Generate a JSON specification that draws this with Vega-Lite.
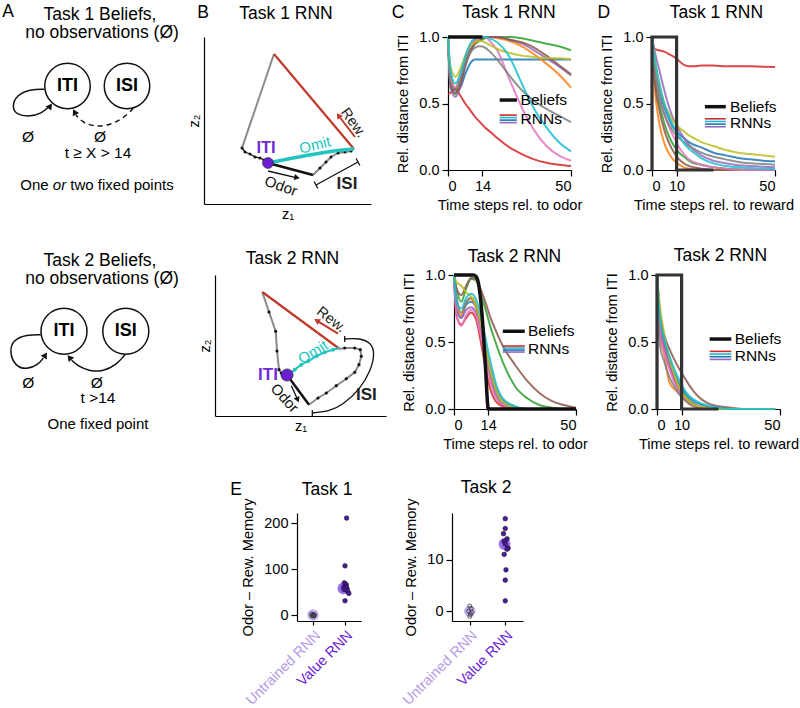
{
"$schema": "https://vega.github.io/schema/vega-lite/v6.json",
"padding": {"left": 0, "top": 3, "right": 0, "bottom": 0},
"config": {
  "font": "Liberation Sans",
  "view": {"stroke": null},
  "axis": {"grid": false, "domainColor": "#000", "tickColor": "#000", "labelColor": "#000", "titleColor": "#000", "labelFontSize": 14.5, "titleFontSize": 14.6, "titleFontWeight": "normal", "tickSize": 6, "labelPadding": 3, "domainWidth": 1.2, "tickWidth": 1.2, "titlePadding": 5},
  "text": {"font": "Liberation Sans", "color": "#000"}
},
"datasets": {
  "c1": [
    {"t":0,"blue":1,"orange":1,"green":1,"red":0.57,"purple":1,"brown":1,"pink":1,"gray":1,"olive":1,"cyan":1},
    {"t":1,"blue":0.72,"orange":0.7,"green":0.65,"red":0.58,"purple":0.62,"brown":0.64,"pink":0.68,"gray":0.66,"olive":0.78,"cyan":0.75},
    {"t":3,"blue":0.6,"orange":0.62,"green":0.57,"red":0.61,"purple":0.55,"brown":0.58,"pink":0.62,"gray":0.6,"olive":0.7,"cyan":0.65},
    {"t":5,"blue":0.62,"orange":0.68,"green":0.65,"red":0.56,"purple":0.62,"brown":0.64,"pink":0.72,"gray":0.68,"olive":0.76,"cyan":0.72},
    {"t":7,"blue":0.72,"orange":0.82,"green":0.8,"red":0.5,"purple":0.78,"brown":0.78,"pink":0.85,"gray":0.8,"olive":0.86,"cyan":0.85},
    {"t":9,"blue":0.8,"orange":0.93,"green":0.9,"red":0.45,"purple":0.9,"brown":0.88,"pink":0.93,"gray":0.88,"olive":0.93,"cyan":0.95},
    {"t":11,"blue":0.83,"orange":0.98,"green":0.95,"red":0.4,"purple":0.97,"brown":0.95,"pink":0.98,"gray":0.92,"olive":0.96,"cyan":0.99},
    {"t":13,"blue":0.83,"orange":1,"green":0.97,"red":0.36,"purple":1,"brown":0.98,"pink":1,"gray":0.93,"olive":0.97,"cyan":1},
    {"t":15,"blue":0.83,"orange":1,"green":0.99,"red":0.32,"purple":1,"brown":1,"pink":1,"gray":0.92,"olive":0.96,"cyan":1},
    {"t":17,"blue":0.83,"orange":1,"green":1,"red":0.29,"purple":1,"brown":1,"pink":0.97,"gray":0.89,"olive":0.94,"cyan":0.99},
    {"t":20,"blue":0.83,"orange":0.99,"green":1,"red":0.24,"purple":1,"brown":1,"pink":0.9,"gray":0.83,"olive":0.91,"cyan":0.96},
    {"t":25,"blue":0.83,"orange":0.97,"green":1,"red":0.17,"purple":0.98,"brown":0.98,"pink":0.68,"gray":0.71,"olive":0.88,"cyan":0.85},
    {"t":30,"blue":0.83,"orange":0.93,"green":0.99,"red":0.12,"purple":0.95,"brown":0.96,"pink":0.47,"gray":0.6,"olive":0.86,"cyan":0.65},
    {"t":35,"blue":0.83,"orange":0.87,"green":0.97,"red":0.08,"purple":0.9,"brown":0.92,"pink":0.3,"gray":0.52,"olive":0.85,"cyan":0.46},
    {"t":40,"blue":0.83,"orange":0.8,"green":0.95,"red":0.055,"purple":0.84,"brown":0.86,"pink":0.18,"gray":0.46,"olive":0.84,"cyan":0.32},
    {"t":45,"blue":0.83,"orange":0.72,"green":0.93,"red":0.04,"purple":0.78,"brown":0.79,"pink":0.11,"gray":0.41,"olive":0.84,"cyan":0.21},
    {"t":50,"blue":0.83,"orange":0.62,"green":0.9,"red":0.03,"purple":0.71,"brown":0.72,"pink":0.07,"gray":0.36,"olive":0.83,"cyan":0.14}
  ],
  "c2": [
    {"t":0,"blue":1,"orange":1,"green":1,"red":1,"purple":1,"brown":1,"pink":1,"gray":1,"olive":1,"cyan":1},
    {"t":1,"blue":0.75,"orange":0.8,"green":0.9,"red":0.7,"purple":0.75,"brown":0.9,"pink":0.7,"gray":0.85,"olive":0.95,"cyan":0.8},
    {"t":3,"blue":0.68,"orange":0.7,"green":0.8,"red":0.63,"purple":0.68,"brown":0.85,"pink":0.62,"gray":0.72,"olive":0.92,"cyan":0.75},
    {"t":5,"blue":0.78,"orange":0.8,"green":0.9,"red":0.68,"purple":0.74,"brown":0.92,"pink":0.7,"gray":0.8,"olive":0.87,"cyan":0.83},
    {"t":7,"blue":0.8,"orange":0.82,"green":0.97,"red":0.72,"purple":0.76,"brown":0.98,"pink":0.74,"gray":0.83,"olive":0.84,"cyan":0.86},
    {"t":9,"blue":0.76,"orange":0.76,"green":0.96,"red":0.67,"purple":0.72,"brown":0.97,"pink":0.7,"gray":0.78,"olive":0.78,"cyan":0.82},
    {"t":11,"blue":0.62,"orange":0.62,"green":0.86,"red":0.5,"purple":0.58,"brown":0.89,"pink":0.55,"gray":0.64,"olive":0.64,"cyan":0.7},
    {"t":13,"blue":0.43,"orange":0.41,"green":0.74,"red":0.3,"purple":0.4,"brown":0.79,"pink":0.36,"gray":0.46,"olive":0.46,"cyan":0.52},
    {"t":15,"blue":0.26,"orange":0.22,"green":0.61,"red":0.14,"purple":0.23,"brown":0.68,"pink":0.2,"gray":0.3,"olive":0.28,"cyan":0.35},
    {"t":17,"blue":0.14,"orange":0.1,"green":0.5,"red":0.06,"purple":0.11,"brown":0.59,"pink":0.09,"gray":0.17,"olive":0.15,"cyan":0.2},
    {"t":20,"blue":0.05,"orange":0.03,"green":0.35,"red":0.02,"purple":0.04,"brown":0.47,"pink":0.03,"gray":0.07,"olive":0.05,"cyan":0.08},
    {"t":25,"blue":0.01,"orange":0,"green":0.17,"red":0,"purple":0.01,"brown":0.33,"pink":0,"gray":0.02,"olive":0.01,"cyan":0.02},
    {"t":30,"blue":0,"orange":0,"green":0.08,"red":0,"purple":0,"brown":0.21,"pink":0,"gray":0,"olive":0,"cyan":0},
    {"t":35,"blue":0,"orange":0,"green":0.03,"red":0,"purple":0,"brown":0.12,"pink":0,"gray":0,"olive":0,"cyan":0},
    {"t":40,"blue":0,"orange":0,"green":0.01,"red":0,"purple":0,"brown":0.06,"pink":0,"gray":0,"olive":0,"cyan":0},
    {"t":45,"blue":0,"orange":0,"green":0,"red":0,"purple":0,"brown":0.03,"pink":0,"gray":0,"olive":0,"cyan":0},
    {"t":50,"blue":0,"orange":0,"green":0,"red":0,"purple":0,"brown":0.01,"pink":0,"gray":0,"olive":0,"cyan":0}
  ],
  "d1": [
    {"t":0,"blue":1,"orange":1,"green":1,"red":1,"purple":1,"brown":1,"pink":1,"gray":1,"olive":1,"cyan":1},
    {"t":1,"blue":0.8,"orange":0.65,"green":0.75,"red":0.91,"purple":0.9,"brown":0.7,"pink":0.8,"gray":0.78,"olive":0.85,"cyan":0.85},
    {"t":3,"blue":0.6,"orange":0.35,"green":0.5,"red":0.9,"purple":0.75,"brown":0.45,"pink":0.55,"gray":0.55,"olive":0.65,"cyan":0.65},
    {"t":5,"blue":0.47,"orange":0.2,"green":0.35,"red":0.89,"purple":0.6,"brown":0.3,"pink":0.42,"gray":0.42,"olive":0.5,"cyan":0.5},
    {"t":7,"blue":0.38,"orange":0.12,"green":0.25,"red":0.87,"purple":0.47,"brown":0.2,"pink":0.32,"gray":0.34,"olive":0.42,"cyan":0.4},
    {"t":9,"blue":0.31,"orange":0.07,"green":0.18,"red":0.85,"purple":0.37,"brown":0.13,"pink":0.24,"gray":0.28,"olive":0.36,"cyan":0.32},
    {"t":11,"blue":0.27,"orange":0.04,"green":0.13,"red":0.82,"purple":0.3,"brown":0.08,"pink":0.17,"gray":0.24,"olive":0.32,"cyan":0.26},
    {"t":13,"blue":0.24,"orange":0.02,"green":0.1,"red":0.79,"purple":0.24,"brown":0.05,"pink":0.12,"gray":0.21,"olive":0.29,"cyan":0.2},
    {"t":15,"blue":0.21,"orange":0.01,"green":0.07,"red":0.78,"purple":0.19,"brown":0.03,"pink":0.08,"gray":0.18,"olive":0.26,"cyan":0.16},
    {"t":17,"blue":0.19,"orange":0.005,"green":0.05,"red":0.78,"purple":0.15,"brown":0.02,"pink":0.06,"gray":0.16,"olive":0.24,"cyan":0.13},
    {"t":20,"blue":0.17,"orange":0,"green":0.04,"red":0.785,"purple":0.11,"brown":0.01,"pink":0.04,"gray":0.13,"olive":0.21,"cyan":0.09},
    {"t":25,"blue":0.13,"orange":0,"green":0.02,"red":0.785,"purple":0.07,"brown":0,"pink":0.02,"gray":0.1,"olive":0.18,"cyan":0.05},
    {"t":30,"blue":0.11,"orange":0,"green":0.01,"red":0.78,"purple":0.05,"brown":0,"pink":0.01,"gray":0.08,"olive":0.15,"cyan":0.03},
    {"t":35,"blue":0.09,"orange":0,"green":0.005,"red":0.78,"purple":0.035,"brown":0,"pink":0,"gray":0.06,"olive":0.13,"cyan":0.02},
    {"t":40,"blue":0.08,"orange":0,"green":0,"red":0.78,"purple":0.03,"brown":0,"pink":0,"gray":0.05,"olive":0.12,"cyan":0.015},
    {"t":45,"blue":0.07,"orange":0,"green":0,"red":0.777,"purple":0.025,"brown":0,"pink":0,"gray":0.045,"olive":0.11,"cyan":0.012},
    {"t":50,"blue":0.065,"orange":0,"green":0,"red":0.775,"purple":0.02,"brown":0,"pink":0,"gray":0.04,"olive":0.1,"cyan":0.01}
  ],
  "d2": [
    {"t":0,"blue":1,"orange":1,"green":1,"red":1,"purple":1,"brown":1,"pink":1,"gray":1,"olive":1,"cyan":1},
    {"t":1,"blue":0.7,"orange":0.6,"green":0.75,"red":0.62,"purple":0.65,"brown":0.75,"pink":0.6,"gray":0.5,"olive":0.8,"cyan":0.72},
    {"t":3,"blue":0.5,"orange":0.4,"green":0.52,"red":0.45,"purple":0.47,"brown":0.55,"pink":0.42,"gray":0.35,"olive":0.55,"cyan":0.52},
    {"t":5,"blue":0.37,"orange":0.2,"green":0.37,"red":0.32,"purple":0.34,"brown":0.45,"pink":0.3,"gray":0.24,"olive":0.38,"cyan":0.4},
    {"t":7,"blue":0.27,"orange":0.15,"green":0.26,"red":0.22,"purple":0.24,"brown":0.37,"pink":0.2,"gray":0.17,"olive":0.26,"cyan":0.3},
    {"t":9,"blue":0.19,"orange":0.12,"green":0.17,"red":0.14,"purple":0.16,"brown":0.3,"pink":0.13,"gray":0.11,"olive":0.16,"cyan":0.22},
    {"t":11,"blue":0.13,"orange":0.08,"green":0.11,"red":0.08,"purple":0.1,"brown":0.24,"pink":0.08,"gray":0.07,"olive":0.1,"cyan":0.15},
    {"t":13,"blue":0.09,"orange":0.04,"green":0.07,"red":0.05,"purple":0.06,"brown":0.18,"pink":0.05,"gray":0.04,"olive":0.06,"cyan":0.1},
    {"t":15,"blue":0.06,"orange":0.02,"green":0.04,"red":0.03,"purple":0.04,"brown":0.13,"pink":0.03,"gray":0.02,"olive":0.03,"cyan":0.07},
    {"t":17,"blue":0.04,"orange":0.01,"green":0.02,"red":0.01,"purple":0.02,"brown":0.09,"pink":0.02,"gray":0.01,"olive":0.02,"cyan":0.05},
    {"t":20,"blue":0.02,"orange":0,"green":0.01,"red":0,"purple":0.01,"brown":0.05,"pink":0.01,"gray":0,"olive":0.01,"cyan":0.03},
    {"t":25,"blue":0.01,"orange":0,"green":0,"red":0,"purple":0,"brown":0.02,"pink":0,"gray":0,"olive":0,"cyan":0.01},
    {"t":30,"blue":0,"orange":0,"green":0,"red":0,"purple":0,"brown":0.01,"pink":0,"gray":0,"olive":0,"cyan":0},
    {"t":35,"blue":0,"orange":0,"green":0,"red":0,"purple":0,"brown":0,"pink":0,"gray":0,"olive":0,"cyan":0},
    {"t":40,"blue":0,"orange":0,"green":0,"red":0,"purple":0,"brown":0,"pink":0,"gray":0,"olive":0,"cyan":0},
    {"t":45,"blue":0,"orange":0,"green":0,"red":0,"purple":0,"brown":0,"pink":0,"gray":0,"olive":0,"cyan":0},
    {"t":48,"blue":0,"orange":0,"green":0,"red":0,"purple":0,"brown":0,"pink":0,"gray":0,"olive":0,"cyan":0}
  ],
  "bel": [
    {"p":"c1","i":0,"t":0,"v":1},{"p":"c1","i":1,"t":14,"v":1},
    {"p":"c2","i":0,"t":0,"v":1},{"p":"c2","i":1,"t":8,"v":1},{"p":"c2","i":2,"t":9,"v":0.99},{"p":"c2","i":3,"t":10,"v":0.94},{"p":"c2","i":4,"t":11,"v":0.8},{"p":"c2","i":5,"t":12,"v":0.58},{"p":"c2","i":6,"t":13,"v":0.28},{"p":"c2","i":7,"t":13.8,"v":0.03},{"p":"c2","i":8,"t":14,"v":0},{"p":"c2","i":9,"t":50,"v":0},
    {"p":"d1","i":0,"t":0,"v":0},{"p":"d1","i":1,"t":0,"v":1},{"p":"d1","i":2,"t":10,"v":1},{"p":"d1","i":3,"t":10,"v":0},{"p":"d1","i":4,"t":25,"v":0},
    {"p":"d2","i":0,"t":0,"v":0},{"p":"d2","i":1,"t":0,"v":1},{"p":"d2","i":2,"t":10,"v":1},{"p":"d2","i":3,"t":10,"v":0},{"p":"d2","i":4,"t":25,"v":0}
  ],
  "leg": [
    {"p":"c1","c":"red","t":21,"t2":28,"v":0.413},{"p":"c1","c":"cyan","t":21,"t2":28,"v":0.394},{"p":"c1","c":"blue","t":21,"t2":28,"v":0.375},{"p":"c1","c":"purple","t":21,"t2":28,"v":0.356},
    {"p":"c2","c":"red","t":20,"t2":29,"v":0.47},{"p":"c2","c":"cyan","t":20,"t2":29,"v":0.455},{"p":"c2","c":"blue","t":20,"t2":29,"v":0.44},{"p":"c2","c":"purple","t":20,"t2":29,"v":0.425},
    {"p":"d1","c":"red","t":21.5,"t2":30,"v":0.385},{"p":"d1","c":"cyan","t":21.5,"t2":30,"v":0.365},{"p":"d1","c":"blue","t":21.5,"t2":30,"v":0.345},{"p":"d1","c":"purple","t":21.5,"t2":30,"v":0.325},
    {"p":"d2","c":"red","t":21.4,"t2":30.2,"v":0.43},{"p":"d2","c":"cyan","t":21.4,"t2":30.2,"v":0.41},{"p":"d2","c":"blue","t":21.4,"t2":30.2,"v":0.39},{"p":"d2","c":"purple","t":21.4,"t2":30.2,"v":0.37}
  ],
  "legb": [
    {"p":"c1","t":21,"t2":28,"v":0.526},{"p":"c2","t":20,"t2":29,"v":0.58},{"p":"d1","t":21.5,"t2":30,"v":0.476},{"p":"d2","t":21.4,"t2":30.2,"v":0.522}
  ],
  "legt": [
    {"p":"c1","t":29.5,"v":0.526,"label":"Beliefs"},{"p":"c1","t":29.5,"v":0.385,"label":"RNNs"},
    {"p":"c2","t":30.3,"v":0.58,"label":"Beliefs"},{"p":"c2","t":30.3,"v":0.445,"label":"RNNs"},
    {"p":"d1","t":31.7,"v":0.476,"label":"Beliefs"},{"p":"d1","t":31.7,"v":0.35,"label":"RNNs"},
    {"p":"d2","t":31.6,"v":0.522,"label":"Beliefs"},{"p":"d2","t":31.6,"v":0.395,"label":"RNNs"}
  ],
  "lett": [
    {"p":"c1","t":-20.3,"v":1.18,"label":"C"},{"p":"c1","t":24.8,"v":1.18,"label":"Task 1 RNN"},
    {"p":"d1","t":-19.6,"v":1.18,"label":"D"},{"p":"d1","t":26.2,"v":1.178,"label":"Task 1 RNN"},
    {"p":"c2","t":24.8,"v":1.138,"label":"Task 2 RNN"},
    {"p":"d2","t":25.8,"v":1.142,"label":"Task 2 RNN"}
  ]
},
"vconcat": [
  {"spacing": 25, "vconcat": [
    {"spacing": 0, "hconcat": [
      {"width": 185, "height": 163,
       "encoding": {"x": {"field": "x", "type": "quantitative", "scale": {"domain": [0, 185], "nice": false, "zero": false}, "axis": null},
                    "y": {"field": "y", "type": "quantitative", "scale": {"domain": [0, 163], "nice": false, "zero": false}, "axis": null}},
       "layer": [
         {"data": {"values": [{"x": 67.5, "y": 114}, {"x": 127, "y": 114}]}, "mark": {"type": "point", "shape": "circle", "filled": false, "size": 2070, "color": "#111", "strokeWidth": 1.5, "opacity": 1}},
         {"data": {"values": [{"i":0,"x":44.3,"y":110.7},{"i":1,"x":30,"y":110.7},{"i":2,"x":16.7,"y":105},{"i":3,"x":11.7,"y":93.3},{"i":4,"x":16.7,"y":85},{"i":5,"x":30,"y":83.3},{"i":6,"x":41.7,"y":86.7},{"i":7,"x":48.3,"y":92.7}]},
          "mark": {"type": "line", "interpolate": "basis", "color": "#111", "strokeWidth": 1.5}, "encoding": {"order": {"field": "i", "type": "quantitative"}}},
         {"data": {"values": [{"i":0,"x":133.3,"y":91.7},{"i":1,"x":123.3,"y":81.7},{"i":2,"x":110,"y":75},{"i":3,"x":96.7,"y":73.3},{"i":4,"x":83.3,"y":76.7},{"i":5,"x":76,"y":85}]},
          "mark": {"type": "line", "interpolate": "basis", "color": "#111", "strokeWidth": 1.5, "strokeDash": [5, 4]}, "encoding": {"order": {"field": "i", "type": "quantitative"}}},
         {"data": {"values": [{"x": 50.2, "y": 94}]}, "mark": {"type": "point", "shape": "triangle-up", "filled": true, "size": 50, "angle": 35, "color": "#111", "opacity": 1}},
         {"data": {"values": [{"x": 74.5, "y": 88}]}, "mark": {"type": "point", "shape": "triangle-up", "filled": true, "size": 50, "angle": 333, "color": "#111", "opacity": 1}},
         {"data": {"values": [{"x": 100, "y": 185, "label": "Task 1 Beliefs,"}, {"x": 102, "y": 167, "label": "no observations (Ø)"}, {"x": 8, "y": 188, "label": "A"}]},
          "mark": {"type": "text", "fontSize": 17.5, "align": "center", "baseline": "middle"}, "encoding": {"text": {"field": "label"}}},
         {"data": {"values": [{"x": 67.5, "y": 114, "label": "ITI"}, {"x": 127, "y": 114, "label": "ISI"}]},
          "mark": {"type": "text", "fontSize": 18, "fontWeight": "bold", "align": "center", "baseline": "middle"}, "encoding": {"text": {"field": "label"}}},
         {"data": {"values": [{"x": 28, "y": 63, "label": "Ø"}, {"x": 100, "y": 63, "label": "Ø"}, {"x": 98, "y": 47, "label": "t ≥ X > 14"}]},
          "mark": {"type": "text", "fontSize": 15.5, "align": "center", "baseline": "middle"}, "encoding": {"text": {"field": "label"}}},
         {"data": {"values": [{"x": 48.6, "y": 15, "label": "One"}]},
          "mark": {"type": "text", "fontSize": 15, "align": "right", "baseline": "middle"}, "encoding": {"text": {"field": "label"}}},
         {"data": {"values": [{"x": 52.8, "y": 15, "label": "or"}]},
          "mark": {"type": "text", "fontSize": 15, "fontStyle": "italic", "align": "left", "baseline": "middle"}, "encoding": {"text": {"field": "label"}}},
         {"data": {"values": [{"x": 70.3, "y": 15, "label": "two fixed points"}]},
          "mark": {"type": "text", "fontSize": 15, "align": "left", "baseline": "middle"}, "encoding": {"text": {"field": "label"}}}
       ]},
      {"width": 1, "height": 1, "data": {"values": []}, "mark": "point"},
      {"width": 167, "height": 167,
       "encoding": {"x": {"field": "x", "type": "quantitative", "scale": {"domain": [0, 167], "nice": false, "zero": false}, "axis": {"title": "z₁", "labels": false, "ticks": false, "titlePadding": 2}},
                    "y": {"field": "y", "type": "quantitative", "scale": {"domain": [0, 167], "nice": false, "zero": false}, "axis": {"title": "z₂", "labels": false, "ticks": false, "titlePadding": 3}}},
       "layer": [
         {"data": {"values": [{"i":0,"x":70,"y":150},{"i":1,"x":38,"y":56}]}, "mark": {"type": "line", "color": "#8a8a8a", "strokeWidth": 2}, "encoding": {"order": {"field": "i", "type": "quantitative"}}},
         {"data": {"values": [{"i":0,"x":70,"y":150},{"i":1,"x":150,"y":55}]}, "mark": {"type": "line", "color": "#c0392b", "strokeWidth": 2.2}, "encoding": {"order": {"field": "i", "type": "quantitative"}}},
         {"data": {"values": [{"i":0,"x":38,"y":56},{"i":1,"x":41,"y":52},{"i":2,"x":46,"y":50},{"i":3,"x":51,"y":47},{"i":4,"x":56,"y":46},{"i":5,"x":60,"y":44},{"i":6,"x":64,"y":41}]}, "mark": {"type": "line", "color": "#111", "strokeWidth": 1.3}, "encoding": {"order": {"field": "i", "type": "quantitative"}}},
         {"data": {"values": [{"i":0,"x":109,"y":29},{"i":1,"x":116,"y":36},{"i":2,"x":122,"y":42},{"i":3,"x":127,"y":47},{"i":4,"x":134,"y":51},{"i":5,"x":141,"y":52},{"i":6,"x":147,"y":53},{"i":7,"x":150,"y":55}]}, "mark": {"type": "line", "color": "#8a8a8a", "strokeWidth": 2}, "encoding": {"order": {"field": "i", "type": "quantitative"}}},
         {"data": {"values": [{"x":38,"y":56},{"x":41,"y":52},{"x":46,"y":50},{"x":51,"y":47},{"x":56,"y":46},{"x":60,"y":44},{"x":116,"y":36},{"x":122,"y":42},{"x":127,"y":47},{"x":134,"y":51},{"x":141,"y":52},{"x":147,"y":53}]}, "mark": {"type": "circle", "size": 9, "color": "#111", "opacity": 1}},
         {"data": {"values": [{"i":0,"x":64,"y":41},{"i":1,"x":109,"y":29}]}, "mark": {"type": "line", "color": "#111", "strokeWidth": 2.5}, "encoding": {"order": {"field": "i", "type": "quantitative"}}},
         {"data": {"values": [{"i":0,"x":64,"y":41},{"i":1,"x":100,"y":48},{"i":2,"x":130,"y":53},{"i":3,"x":150,"y":55}]}, "mark": {"type": "line", "color": "#22c4bf", "strokeWidth": 3.5, "interpolate": "monotone"}, "encoding": {"order": {"field": "i", "type": "quantitative"}}},
         {"data": {"values": [{"x": 64, "y": 41}]}, "mark": {"type": "circle", "size": 120, "color": "#6a1fd0", "stroke": "#222", "strokeWidth": 0.6, "opacity": 1}},
         {"data": {"values": [{"x":64,"y":33,"x2":91,"y2":26.7},{"x":112,"y":19,"x2":154,"y2":42},{"x":113.9,"y":15.5,"x2":110.1,"y2":22.5},{"x":155.9,"y":38.5,"x2":152.1,"y2":45.5}]}, "mark": {"type": "rule", "color": "#111", "strokeWidth": 1.3}, "encoding": {"x2": {"field": "x2"}, "y2": {"field": "y2"}}},
         {"data": {"values": [{"x":151,"y":67,"x2":136,"y2":86.5}]}, "mark": {"type": "rule", "color": "#c0392b", "strokeWidth": 2}, "encoding": {"x2": {"field": "x2"}, "y2": {"field": "y2"}}},
         {"data": {"values": [{"x": 134.5, "y": 88.5}]}, "mark": {"type": "point", "shape": "triangle-up", "filled": true, "size": 45, "angle": 322, "color": "#c0392b", "opacity": 1}},
         {"data": {"values": [{"x": 93, "y": 26.4}]}, "mark": {"type": "point", "shape": "triangle-up", "filled": true, "size": 40, "angle": 103, "color": "#111", "opacity": 1}},
         {"data": {"values": [{"x": 62, "y": 56, "label": "ITI"}]}, "mark": {"type": "text", "fontSize": 16.5, "fontWeight": "bold", "color": "#6c2bd9", "align": "center", "baseline": "middle"}, "encoding": {"text": {"field": "label"}}},
         {"data": {"values": [{"x": 111, "y": 59, "label": "Omit"}]}, "mark": {"type": "text", "fontSize": 15, "color": "#22c4bf", "angle": -14, "align": "center", "baseline": "middle"}, "encoding": {"text": {"field": "label"}}},
         {"data": {"values": [{"x": 149, "y": 81, "label": "Rew."}]}, "mark": {"type": "text", "fontSize": 14.5, "color": "#222", "angle": 54, "align": "center", "baseline": "middle"}, "encoding": {"text": {"field": "label"}}},
         {"data": {"values": [{"x": 77, "y": 18, "label": "Odor"}]}, "mark": {"type": "text", "fontSize": 15, "color": "#111", "angle": 20, "align": "center", "baseline": "middle"}, "encoding": {"text": {"field": "label"}}},
         {"data": {"values": [{"x": 143, "y": 20, "label": "ISI"}]}, "mark": {"type": "text", "fontSize": 17, "fontWeight": "bold", "color": "#222", "align": "center", "baseline": "middle"}, "encoding": {"text": {"field": "label"}}},
         {"data": {"values": [{"x": -1, "y": 191, "label": "B"}, {"x": 82, "y": 190.5, "label": "Task 1 RNN"}]}, "mark": {"type": "text", "fontSize": 17.5, "align": "center", "baseline": "middle"}, "encoding": {"text": {"field": "label"}}}
       ]},
      {"width": 20, "height": 1, "data": {"values": []}, "mark": "point"},
      {"width": 123, "height": 133,
       "encoding": {"x": {"field": "t", "type": "quantitative", "scale": {"domain": [0, 50], "nice": false, "zero": false}, "axis": {"values": [0, 14, 50], "title": "Time steps rel. to odor"}},
                    "y": {"field": "v", "type": "quantitative", "scale": {"domain": [0, 1], "nice": false, "zero": false}, "axis": {"values": [0, 0.5, 1], "format": ".1f", "title": "Rel. distance from ITI", "titlePadding": 8}}},
       "layer": [
         {"data": {"name": "c1"}, "transform": [{"fold": ["blue","orange","green","red","purple","brown","pink","gray","olive","cyan"], "as": ["c", "v"]}],
          "mark": {"type": "line", "interpolate": "monotone", "strokeWidth": 2, "opacity": 0.85},
          "encoding": {"color": {"field": "c", "type": "nominal", "scale": {"domain": ["blue","orange","green","red","purple","brown","pink","gray","olive","cyan"], "range": ["#1f77b4","#ff7f0e","#2ca02c","#d62728","#9467bd","#8c564b","#e377c2","#7f7f7f","#bcbd22","#17becf"]}, "legend": null}}},
         {"data": {"name": "bel"}, "transform": [{"filter": "datum.p == 'c1'"}], "mark": {"type": "line", "color": "#111", "strokeWidth": 3.5}, "encoding": {"order": {"field": "i", "type": "quantitative"}}},
         {"data": {"name": "leg"}, "transform": [{"filter": "datum.p == 'c1'"}], "mark": {"type": "rule", "strokeWidth": 1.6}, "encoding": {"x2": {"field": "t2"}, "color": {"field": "c", "type": "nominal", "legend": null}}},
         {"data": {"name": "legb"}, "transform": [{"filter": "datum.p == 'c1'"}], "mark": {"type": "rule", "strokeWidth": 3.5, "color": "#111"}, "encoding": {"x2": {"field": "t2"}}},
         {"data": {"name": "legt"}, "transform": [{"filter": "datum.p == 'c1'"}], "mark": {"type": "text", "align": "left", "baseline": "middle", "fontSize": 15.5}, "encoding": {"text": {"field": "label"}}},
         {"data": {"name": "lett"}, "transform": [{"filter": "datum.p == 'c1'"}], "mark": {"type": "text", "align": "center", "baseline": "middle", "fontSize": 17.5}, "encoding": {"text": {"field": "label"}}}
       ]},
      {"width": 15, "height": 1, "data": {"values": []}, "mark": "point"},
      {"width": 123, "height": 133,
       "encoding": {"x": {"field": "t", "type": "quantitative", "scale": {"domain": [0, 50], "nice": false, "zero": false}, "axis": {"values": [0, 10, 50], "title": "Time steps rel. to reward"}},
                    "y": {"field": "v", "type": "quantitative", "scale": {"domain": [0, 1], "nice": false, "zero": false}, "axis": {"values": [0, 0.5, 1], "format": ".1f", "title": "Rel. distance from ITI", "titlePadding": 8}}},
       "layer": [
         {"data": {"name": "d1"}, "transform": [{"fold": ["blue","orange","green","red","purple","brown","pink","gray","olive","cyan"], "as": ["c", "v"]}],
          "mark": {"type": "line", "interpolate": "monotone", "strokeWidth": 2, "opacity": 0.85},
          "encoding": {"color": {"field": "c", "type": "nominal", "legend": null}}},
         {"data": {"name": "bel"}, "transform": [{"filter": "datum.p == 'd1'"}], "mark": {"type": "line", "color": "#333", "strokeWidth": 3.2}, "encoding": {"order": {"field": "i", "type": "quantitative"}}},
         {"data": {"name": "leg"}, "transform": [{"filter": "datum.p == 'd1'"}], "mark": {"type": "rule", "strokeWidth": 1.6}, "encoding": {"x2": {"field": "t2"}, "color": {"field": "c", "type": "nominal", "legend": null}}},
         {"data": {"name": "legb"}, "transform": [{"filter": "datum.p == 'd1'"}], "mark": {"type": "rule", "strokeWidth": 3.5, "color": "#111"}, "encoding": {"x2": {"field": "t2"}}},
         {"data": {"name": "legt"}, "transform": [{"filter": "datum.p == 'd1'"}], "mark": {"type": "text", "align": "left", "baseline": "middle", "fontSize": 15.5}, "encoding": {"text": {"field": "label"}}},
         {"data": {"name": "lett"}, "transform": [{"filter": "datum.p == 'd1'"}], "mark": {"type": "text", "align": "center", "baseline": "middle", "fontSize": 17.5}, "encoding": {"text": {"field": "label"}}}
       ]}
    ]},
    {"spacing": 0, "hconcat": [
      {"width": 185, "height": 158,
       "encoding": {"x": {"field": "x", "type": "quantitative", "scale": {"domain": [0, 185], "nice": false, "zero": false}, "axis": null},
                    "y": {"field": "y", "type": "quantitative", "scale": {"domain": [0, 158], "nice": false, "zero": false}, "axis": null}},
       "layer": [
         {"data": {"values": [{"x": 64, "y": 101.7}, {"x": 125.8, "y": 101.7}]}, "mark": {"type": "point", "shape": "circle", "filled": false, "size": 2116, "color": "#111", "strokeWidth": 1.5, "opacity": 1}},
         {"data": {"values": [{"i":0,"x":40.7,"y":98.3},{"i":1,"x":26.7,"y":98.3},{"i":2,"x":13.3,"y":93.3},{"i":3,"x":9.3,"y":81.7},{"i":4,"x":15,"y":66.7},{"i":5,"x":26.7,"y":63.3},{"i":6,"x":38.3,"y":68.3},{"i":7,"x":43.3,"y":75}]},
          "mark": {"type": "line", "interpolate": "basis", "color": "#111", "strokeWidth": 1.5}, "encoding": {"order": {"field": "i", "type": "quantitative"}}},
         {"data": {"values": [{"i":0,"x":125,"y":78.3},{"i":1,"x":116.7,"y":68.3},{"i":2,"x":103.3,"y":61.7},{"i":3,"x":90,"y":61.7},{"i":4,"x":78.3,"y":66.7},{"i":5,"x":71.7,"y":72.7}]},
          "mark": {"type": "line", "interpolate": "basis", "color": "#111", "strokeWidth": 1.5}, "encoding": {"order": {"field": "i", "type": "quantitative"}}},
         {"data": {"values": [{"x": 45.3, "y": 78}]}, "mark": {"type": "point", "shape": "triangle-up", "filled": true, "size": 50, "angle": 31, "color": "#111", "opacity": 1}},
         {"data": {"values": [{"x": 69.5, "y": 75.5}]}, "mark": {"type": "point", "shape": "triangle-up", "filled": true, "size": 50, "angle": 320, "color": "#111", "opacity": 1}},
         {"data": {"values": [{"x": 100, "y": 172, "label": "Task 2 Beliefs,"}, {"x": 102, "y": 154, "label": "no observations (Ø)"}]},
          "mark": {"type": "text", "fontSize": 17.5, "align": "center", "baseline": "middle"}, "encoding": {"text": {"field": "label"}}},
         {"data": {"values": [{"x": 64, "y": 101.7, "label": "ITI"}, {"x": 125.8, "y": 101.7, "label": "ISI"}]},
          "mark": {"type": "text", "fontSize": 18, "fontWeight": "bold", "align": "center", "baseline": "middle"}, "encoding": {"text": {"field": "label"}}},
         {"data": {"values": [{"x": 28.3, "y": 50, "label": "Ø"}, {"x": 96.7, "y": 50, "label": "Ø"}, {"x": 98, "y": 35, "label": "t >14"}]},
          "mark": {"type": "text", "fontSize": 15.5, "align": "center", "baseline": "middle"}, "encoding": {"text": {"field": "label"}}},
         {"data": {"values": [{"x": 98, "y": 9, "label": "One fixed point"}]},
          "mark": {"type": "text", "fontSize": 15, "align": "center", "baseline": "middle"}, "encoding": {"text": {"field": "label"}}}
       ]},
      {"width": 12, "height": 1, "data": {"values": []}, "mark": "point"},
      {"width": 171, "height": 141,
       "encoding": {"x": {"field": "x", "type": "quantitative", "scale": {"domain": [0, 171], "nice": false, "zero": false}, "axis": {"title": "z₁", "labels": false, "ticks": false, "titlePadding": 2}},
                    "y": {"field": "y", "type": "quantitative", "scale": {"domain": [0, 141], "nice": false, "zero": false}, "axis": {"title": "z₂", "labels": false, "ticks": false, "titlePadding": 3}}},
       "layer": [
         {"data": {"values": [{"i":0,"x":47.3,"y":124},{"i":1,"x":54,"y":104},{"i":2,"x":60.7,"y":84.7},{"i":3,"x":62,"y":65},{"i":4,"x":64,"y":46.3},{"i":5,"x":66.3,"y":43},{"i":6,"x":72,"y":40.7}]}, "mark": {"type": "line", "color": "#8a8a8a", "strokeWidth": 2}, "encoding": {"order": {"field": "i", "type": "quantitative"}}},
         {"data": {"values": [{"i":0,"x":47.3,"y":124},{"i":1,"x":124.7,"y":67}]}, "mark": {"type": "line", "color": "#c0392b", "strokeWidth": 2.2}, "encoding": {"order": {"field": "i", "type": "quantitative"}}},
         {"data": {"values": [{"i":0,"x":94,"y":11.3},{"i":1,"x":103,"y":18},{"i":2,"x":111.3,"y":23},{"i":3,"x":121.3,"y":30.3},{"i":4,"x":131.3,"y":37.3},{"i":5,"x":139.7,"y":43.7},{"i":6,"x":144,"y":51.3},{"i":7,"x":146.3,"y":59.7},{"i":8,"x":145.3,"y":66.3},{"i":9,"x":139.7,"y":68},{"i":10,"x":129.7,"y":68},{"i":11,"x":124.7,"y":67}]}, "mark": {"type": "line", "color": "#8a8a8a", "strokeWidth": 2}, "encoding": {"order": {"field": "i", "type": "quantitative"}}},
         {"data": {"values": [{"x":54,"y":104},{"x":60.7,"y":84.7},{"x":62,"y":65},{"x":64,"y":46.3},{"x":66.3,"y":43},{"x":103,"y":18},{"x":111.3,"y":23},{"x":121.3,"y":30.3},{"x":131.3,"y":37.3},{"x":139.7,"y":43.7},{"x":144,"y":51.3},{"x":146.3,"y":59.7},{"x":145.3,"y":66.3},{"x":139.7,"y":68},{"x":129.7,"y":68}]}, "mark": {"type": "circle", "size": 10, "color": "#111", "opacity": 1}},
         {"data": {"values": [{"i":0,"x":72,"y":41},{"i":1,"x":94,"y":11.3}]}, "mark": {"type": "line", "color": "#111", "strokeWidth": 2.5}, "encoding": {"order": {"field": "i", "type": "quantitative"}}},
         {"data": {"values": [{"i":0,"x":72,"y":41},{"i":1,"x":79.7,"y":46.3},{"i":2,"x":86.3,"y":51.3},{"i":3,"x":93,"y":54.7},{"i":4,"x":101.3,"y":59.7},{"i":5,"x":109.7,"y":63.7},{"i":6,"x":118,"y":66.3},{"i":7,"x":124.7,"y":68}]}, "mark": {"type": "line", "color": "#22c4bf", "strokeWidth": 2, "interpolate": "monotone"}, "encoding": {"order": {"field": "i", "type": "quantitative"}}},
         {"data": {"values": [{"x":79.7,"y":46.3},{"x":86.3,"y":51.3},{"x":93,"y":54.7},{"x":101.3,"y":59.7},{"x":109.7,"y":63.7},{"x":118,"y":66.3}]}, "mark": {"type": "circle", "size": 16, "color": "#22c4bf", "opacity": 1}},
         {"data": {"values": [{"i":0,"x":129.7,"y":77},{"i":1,"x":144.7,"y":78},{"i":2,"x":156.3,"y":73},{"i":3,"x":159.7,"y":63},{"i":4,"x":156.3,"y":46.3},{"i":5,"x":144.7,"y":26.3},{"i":6,"x":128,"y":11.3},{"i":7,"x":114.7,"y":4.7},{"i":8,"x":97.3,"y":3}]}, "mark": {"type": "line", "interpolate": "basis", "color": "#111", "strokeWidth": 1.3}, "encoding": {"order": {"field": "i", "type": "quantitative"}}},
         {"data": {"values": [{"x": 72, "y": 41}]}, "mark": {"type": "circle", "size": 150, "color": "#6a1fd0", "stroke": "#222", "strokeWidth": 0.6, "opacity": 1}},
         {"data": {"values": [{"x":129.7,"y":74,"x2":129.7,"y2":80},{"x":97.3,"y":0,"x2":97.3,"y2":6},{"x":76.3,"y":30.3,"x2":81.8,"y2":18.3}]}, "mark": {"type": "rule", "color": "#111", "strokeWidth": 1.3}, "encoding": {"x2": {"field": "x2"}, "y2": {"field": "y2"}}},
         {"data": {"values": [{"x":123,"y":82.3,"x2":103,"y2":94.7}]}, "mark": {"type": "rule", "color": "#c0392b", "strokeWidth": 2}, "encoding": {"x2": {"field": "x2"}, "y2": {"field": "y2"}}},
         {"data": {"values": [{"x": 101.8, "y": 95.4}]}, "mark": {"type": "point", "shape": "triangle-up", "filled": true, "size": 45, "angle": 302, "color": "#c0392b", "opacity": 1}},
         {"data": {"values": [{"x": 82.7, "y": 16.3}]}, "mark": {"type": "point", "shape": "triangle-up", "filled": true, "size": 40, "angle": 155, "color": "#111", "opacity": 1}},
         {"data": {"values": [{"x": 53, "y": 41, "label": "ITI"}]}, "mark": {"type": "text", "fontSize": 17, "fontWeight": "bold", "color": "#6c2bd9", "align": "center", "baseline": "middle"}, "encoding": {"text": {"field": "label"}}},
         {"data": {"values": [{"x": 98, "y": 64, "label": "Omit"}]}, "mark": {"type": "text", "fontSize": 15, "color": "#22c4bf", "angle": -31, "align": "center", "baseline": "middle"}, "encoding": {"text": {"field": "label"}}},
         {"data": {"values": [{"x": 116, "y": 96, "label": "Rew."}]}, "mark": {"type": "text", "fontSize": 14.5, "color": "#222", "angle": 38, "align": "center", "baseline": "middle"}, "encoding": {"text": {"field": "label"}}},
         {"data": {"values": [{"x": 69.7, "y": 18, "label": "Odor"}]}, "mark": {"type": "text", "fontSize": 15, "color": "#111", "angle": 47, "align": "center", "baseline": "middle"}, "encoding": {"text": {"field": "label"}}},
         {"data": {"values": [{"x": 151.3, "y": 21.3, "label": "ISI"}]}, "mark": {"type": "text", "fontSize": 17, "fontWeight": "bold", "color": "#222", "align": "center", "baseline": "middle"}, "encoding": {"text": {"field": "label"}}},
         {"data": {"values": [{"x": 77.5, "y": 157, "label": "Task 2 RNN"}]}, "mark": {"type": "text", "fontSize": 17.5, "align": "center", "baseline": "middle"}, "encoding": {"text": {"field": "label"}}}
       ]},
      {"width": 15, "height": 1, "data": {"values": []}, "mark": "point"},
      {"width": 122, "height": 134,
       "encoding": {"x": {"field": "t", "type": "quantitative", "scale": {"domain": [0, 50], "nice": false, "zero": false}, "axis": {"values": [0, 14, 50], "title": "Time steps rel. to odor"}},
                    "y": {"field": "v", "type": "quantitative", "scale": {"domain": [0, 1], "nice": false, "zero": false}, "axis": {"values": [0, 0.5, 1], "format": ".1f", "title": "Rel. distance from ITI", "titlePadding": 8}}},
       "layer": [
         {"data": {"name": "c2"}, "transform": [{"fold": ["blue","orange","green","red","purple","brown","pink","gray","olive","cyan"], "as": ["c", "v"]}],
          "mark": {"type": "line", "interpolate": "monotone", "strokeWidth": 2, "opacity": 0.85},
          "encoding": {"color": {"field": "c", "type": "nominal", "legend": null}}},
         {"data": {"name": "bel"}, "transform": [{"filter": "datum.p == 'c2'"}], "mark": {"type": "line", "interpolate": "monotone", "color": "#111", "strokeWidth": 3.5}, "encoding": {"order": {"field": "i", "type": "quantitative"}}},
         {"data": {"name": "leg"}, "transform": [{"filter": "datum.p == 'c2'"}], "mark": {"type": "rule", "strokeWidth": 1.6}, "encoding": {"x2": {"field": "t2"}, "color": {"field": "c", "type": "nominal", "legend": null}}},
         {"data": {"name": "legb"}, "transform": [{"filter": "datum.p == 'c2'"}], "mark": {"type": "rule", "strokeWidth": 3.5, "color": "#111"}, "encoding": {"x2": {"field": "t2"}}},
         {"data": {"name": "legt"}, "transform": [{"filter": "datum.p == 'c2'"}], "mark": {"type": "text", "align": "left", "baseline": "middle", "fontSize": 15.5}, "encoding": {"text": {"field": "label"}}},
         {"data": {"name": "lett"}, "transform": [{"filter": "datum.p == 'c2'"}], "mark": {"type": "text", "align": "center", "baseline": "middle", "fontSize": 17.5}, "encoding": {"text": {"field": "label"}}}
       ]},
      {"width": 16, "height": 1, "data": {"values": []}, "mark": "point"},
      {"width": 123, "height": 134,
       "encoding": {"x": {"field": "t", "type": "quantitative", "scale": {"domain": [0, 50], "nice": false, "zero": false}, "axis": {"values": [0, 10, 50], "title": "Time steps rel. to reward"}},
                    "y": {"field": "v", "type": "quantitative", "scale": {"domain": [0, 1], "nice": false, "zero": false}, "axis": {"values": [0, 0.5, 1], "format": ".1f", "title": "Rel. distance from ITI", "titlePadding": 8}}},
       "layer": [
         {"data": {"name": "d2"}, "transform": [{"fold": ["blue","orange","green","red","purple","brown","pink","gray","olive","cyan"], "as": ["c", "v"]}],
          "mark": {"type": "line", "interpolate": "monotone", "strokeWidth": 2, "opacity": 0.85},
          "encoding": {"color": {"field": "c", "type": "nominal", "legend": null}}},
         {"data": {"name": "bel"}, "transform": [{"filter": "datum.p == 'd2'"}], "mark": {"type": "line", "color": "#333", "strokeWidth": 3.2}, "encoding": {"order": {"field": "i", "type": "quantitative"}}},
         {"data": {"name": "leg"}, "transform": [{"filter": "datum.p == 'd2'"}], "mark": {"type": "rule", "strokeWidth": 1.6}, "encoding": {"x2": {"field": "t2"}, "color": {"field": "c", "type": "nominal", "legend": null}}},
         {"data": {"name": "legb"}, "transform": [{"filter": "datum.p == 'd2'"}], "mark": {"type": "rule", "strokeWidth": 3.5, "color": "#111"}, "encoding": {"x2": {"field": "t2"}}},
         {"data": {"name": "legt"}, "transform": [{"filter": "datum.p == 'd2'"}], "mark": {"type": "text", "align": "left", "baseline": "middle", "fontSize": 15.5}, "encoding": {"text": {"field": "label"}}},
         {"data": {"name": "lett"}, "transform": [{"filter": "datum.p == 'd2'"}], "mark": {"type": "text", "align": "center", "baseline": "middle", "fontSize": 17.5}, "encoding": {"text": {"field": "label"}}}
       ]}
    ]}
  ]},
  {"spacing": 0, "hconcat": [
    {"width": 230, "height": 1, "data": {"values": []}, "mark": "point"},
    {"width": 64, "height": 108,
     "encoding": {"x": {"field": "x", "type": "quantitative", "scale": {"domain": [-0.5, 1.5], "nice": false, "zero": false}, "axis": {"values": [0, 1], "labelExpr": "datum.value == 0 ? 'Untrained RNN' : 'Value RNN'", "labelAngle": -45, "labelAlign": "right", "labelBaseline": "top", "labelColor": {"condition": {"test": "datum.value == 0", "value": "#b49be8"}, "value": "#6a22d8"}, "title": null, "tickSize": 4, "labelFontSize": 14.5}},
                  "y": {"field": "v", "type": "quantitative", "scale": {"domain": [-13, 222], "nice": false, "zero": false}, "axis": {"values": [0, 100, 200], "title": "Odor – Rew. Memory", "titlePadding": 8}}},
     "layer": [
       {"data": {"values": [{"x": 0, "v": 0}]}, "mark": {"type": "circle", "size": 130, "color": "#c3adf2", "opacity": 1}},
       {"data": {"values": [{"x": 0.95, "v": 58}]}, "mark": {"type": "circle", "size": 140, "color": "#8d5fe8", "opacity": 0.9}},
       {"data": {"values": [{"x":-0.04,"v":2},{"x":0.03,"v":1},{"x":0,"v":0},{"x":0.05,"v":-0.5},{"x":-0.03,"v":-1.5},{"x":0.02,"v":-2.5}]}, "mark": {"type": "point", "shape": "circle", "filled": false, "size": 16, "color": "#333", "strokeWidth": 0.8, "opacity": 1}},
       {"data": {"values": [{"x":1.05,"v":211},{"x":1.0,"v":107},{"x":0.98,"v":70},{"x":1.04,"v":66},{"x":1.02,"v":62},{"x":0.96,"v":60},{"x":1.06,"v":58},{"x":0.97,"v":56},{"x":1.08,"v":52},{"x":1.12,"v":47},{"x":1.0,"v":31}]}, "mark": {"type": "circle", "size": 22, "color": "#4d1a9e", "stroke": "#111", "strokeWidth": 0.5, "opacity": 1}},
       {"data": {"values": [{"x": -2.4, "v": 272, "label": "E"}, {"x": 0.44, "v": 272, "label": "Task 1"}]}, "mark": {"type": "text", "fontSize": 17.5, "align": "center", "baseline": "middle"}, "encoding": {"text": {"field": "label"}}}
     ]},
    {"width": 38, "height": 1, "data": {"values": []}, "mark": "point"},
    {"width": 71, "height": 108,
     "encoding": {"x": {"field": "x", "type": "quantitative", "scale": {"domain": [-0.5, 1.5], "nice": false, "zero": false}, "axis": {"values": [0, 1], "labelExpr": "datum.value == 0 ? 'Untrained RNN' : 'Value RNN'", "labelAngle": -45, "labelAlign": "right", "labelBaseline": "top", "labelColor": {"condition": {"test": "datum.value == 0", "value": "#b49be8"}, "value": "#6a22d8"}, "title": null, "tickSize": 4, "labelFontSize": 14.5}},
                  "y": {"field": "v", "type": "quantitative", "scale": {"domain": [-1.9, 19], "nice": false, "zero": false}, "axis": {"values": [0, 10], "title": "Odor – Rew. Memory", "titlePadding": 8}}},
     "layer": [
       {"data": {"values": [{"x": 0, "v": 0}]}, "mark": {"type": "circle", "size": 130, "color": "#c3adf2", "opacity": 1}},
       {"data": {"values": [{"x": 0.98, "v": 13}]}, "mark": {"type": "circle", "size": 140, "color": "#8d5fe8", "opacity": 0.9}},
       {"data": {"values": [{"x":0,"v":1},{"x":0.04,"v":0.5},{"x":-0.03,"v":0},{"x":0.05,"v":-0.2},{"x":0.02,"v":-0.6},{"x":0,"v":-1}]}, "mark": {"type": "point", "shape": "circle", "filled": false, "size": 16, "color": "#333", "strokeWidth": 0.8, "opacity": 1}},
       {"data": {"values": [{"x":1.0,"v":17.9},{"x":1.0,"v":16},{"x":0.95,"v":15},{"x":1.05,"v":14},{"x":0.97,"v":13.5},{"x":1.0,"v":13},{"x":1.08,"v":12.2},{"x":1.05,"v":12},{"x":0.97,"v":11},{"x":1.02,"v":8},{"x":1.0,"v":6},{"x":1.0,"v":2}]}, "mark": {"type": "circle", "size": 22, "color": "#4d1a9e", "stroke": "#111", "strokeWidth": 0.5, "opacity": 1}},
       {"data": {"values": [{"x": 0.46, "v": 23.8, "label": "Task 2"}]}, "mark": {"type": "text", "fontSize": 17.5, "align": "center", "baseline": "middle"}, "encoding": {"text": {"field": "label"}}}
     ]}
  ]}
],
"spacing": 27
}
